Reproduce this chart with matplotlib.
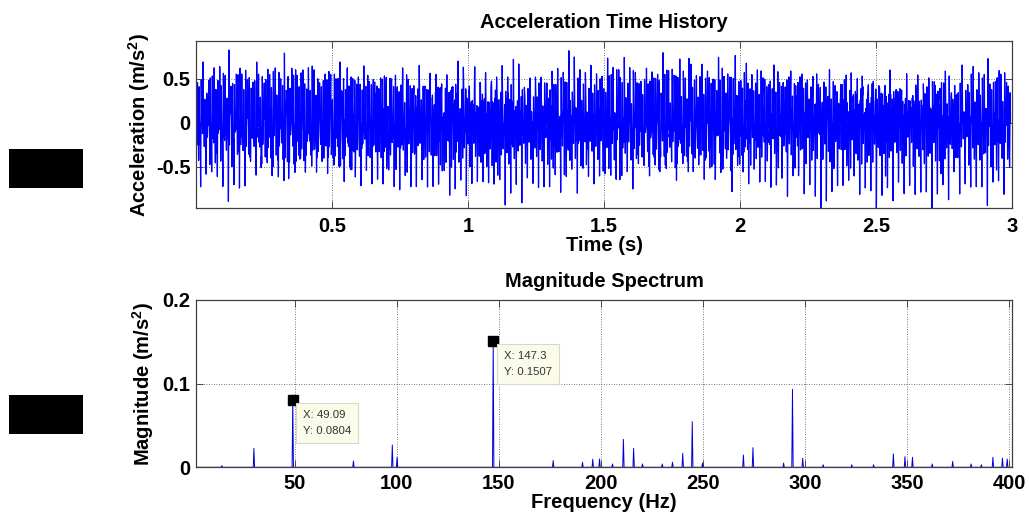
import numpy as np
import matplotlib.pyplot as plt
from matplotlib.patches import Rectangle

plt.rcParams["font.family"] = ["Liberation Sans", "DejaVu Sans"]
plt.rcParams["mathtext.fontset"] = "custom"
plt.rcParams["mathtext.rm"] = "Liberation Sans"
plt.rcParams["mathtext.bf"] = "Liberation Sans:bold"

# spectral lines (Hz, m/s^2, |X|/N scaling)
peak_freq = [14.2, 30.2, 49.09, 78.8, 98.0, 100.3, 147.3, 176.5, 191.1, 196.0,
             199.3, 205.8, 211.0, 215.9, 220.4, 230.0, 235.0, 240.0, 244.8, 249.7,
             269.7, 274.6, 289.6, 294.0, 298.9, 309.0, 323.0, 333.5, 343.3, 349.0,
             352.7, 362.3, 372.3, 381.5, 386.4, 392.1, 396.7, 399.0]
peak_mag = [0.002, 0.0227, 0.0804, 0.0075, 0.0267, 0.012, 0.1507, 0.008, 0.006, 0.0096,
            0.010, 0.004, 0.0334, 0.0227, 0.004, 0.004, 0.006, 0.0167, 0.0545, 0.005,
            0.0147, 0.0234, 0.005, 0.0932, 0.0107, 0.003, 0.003, 0.003, 0.016, 0.0127,
            0.012, 0.004, 0.007, 0.004, 0.003, 0.012, 0.011, 0.010]
# phases can't be read from a magnitude plot, these are just picked
peak_phase = [0.3, 2.1, 4.7, 1.2, 5.5, 3.3, 0.9, 2.8, 6.0, 1.7,
              4.1, 0.5, 3.9, 5.2, 2.4, 1.0, 4.4, 5.9, 2.0, 3.6,
              0.1, 4.9, 1.5, 3.1, 5.7, 2.6, 0.7, 4.2, 1.9, 5.0,
              3.4, 0.4, 2.9, 6.2, 1.3, 4.6, 2.2, 5.4]

# data tips shown on the spectrum
tip_x = [49.09, 147.3]
tip_y = [0.0804, 0.1507]
tip_label = ["X: 49.09\nY: 0.0804", "X: 147.3\nY: 0.1507"]

fs = 4096
n = 12266
df = fs / n

# ACCELERATION SIGNAL FROM THE SPECTRAL LINES
t = np.arange(n) / fs
accel = np.zeros(n)
for f, a, ph in zip(peak_freq, peak_mag, peak_phase):
    fb = round(f / df) * df
    accel += 2 * a * np.cos(2 * np.pi * fb * t + ph)

# MAGNITUDE SPECTRUM
spec = np.abs(np.fft.rfft(accel)) / n
freq = np.arange(len(spec)) * df
keep = freq <= 402

fig = plt.figure(figsize=(10.29, 5.24), dpi=100)
ax1 = fig.add_axes([0.1905, 0.6031, 0.793, 0.3187])
ax2 = fig.add_axes([0.1905, 0.1082, 0.793, 0.3193])

fsz = 14.5
bold = dict(fontsize=fsz, fontweight="bold")

for ax in (ax1, ax2):
    ax.grid(True, linestyle=(0, (1, 2)), color="0.3", linewidth=0.6)
    ax.tick_params(direction="in", length=5, width=0.6, top=True, right=True,
                   labelsize=fsz, color="0.2")
    for s in ax.spines.values():
        s.set_color("0.25")
        s.set_linewidth(0.9)

# time history
ax1.plot(t, accel, color=(0, 0, 1), linewidth=0.9)
ax1.set_xlim(0, 3)
ax1.set_ylim(-0.97, 0.93)
ax1.set_xticks([0.5, 1, 1.5, 2, 2.5, 3])
ax1.set_xticklabels(["0.5", "1", "1.5", "2", "2.5", "3"], fontweight="bold")
ax1.set_yticks([-0.5, 0, 0.5])
ax1.set_yticklabels(["-0.5", "0", "0.5"], fontweight="bold")
ax1.tick_params(axis="x", pad=6.5)
ax1.tick_params(axis="y", pad=4)
ax1.set_title("Acceleration Time History", pad=9, **bold)
ax1.set_xlabel("Time (s)", labelpad=0, **bold)
ax1.set_ylabel(r"Acceleration (m/s$^{\mathbf{2}}$)", labelpad=3, **bold)

# spectrum
ax2.plot(freq[keep], spec[keep], color=(0, 0, 0.85), linewidth=0.7)
ax2.set_xlim(1.7, 401.4)
ax2.set_ylim(0, 0.2)
ax2.set_xticks([50, 100, 150, 200, 250, 300, 350, 400])
ax2.set_xticklabels(["50", "100", "150", "200", "250", "300", "350", "400"], fontweight="bold")
ax2.set_yticks([0, 0.1, 0.2])
ax2.set_yticklabels(["0", "0.1", "0.2"], fontweight="bold")
ax2.tick_params(axis="x", pad=5)
ax2.tick_params(axis="y", pad=4)
ax2.set_title("Magnitude Spectrum", pad=9, **bold)
ax2.set_xlabel("Frequency (Hz)", labelpad=0, **bold)
ax2.set_ylabel(r"Magnitude (m/s$^{\mathbf{2}}$)", labelpad=5, **bold)

for x, y, lab in zip(tip_x, tip_y, tip_label):
    ax2.plot([x], [y], marker="s", color="black", markersize=7.5, zorder=5)
    ax2.annotate(lab, xy=(x, y), xytext=(7.5, -7), textcoords="offset points",
                 ha="left", va="top", fontsize=8.2, color="0.2", linespacing=1.8,
                 bbox=dict(boxstyle="square,pad=0.6", facecolor="#fbfbea",
                           edgecolor="#d8d8c8", linewidth=0.8), zorder=6)

# blacked-out boxes on the left
W, H = 1029, 524
for top in (149, 395):
    fig.patches.append(Rectangle((9 / W, 1 - (top + 39) / H), 74 / W, 39 / H,
                                 transform=fig.transFigure, facecolor="black",
                                 edgecolor="none"))

fig.savefig("out.png", dpi=100)
